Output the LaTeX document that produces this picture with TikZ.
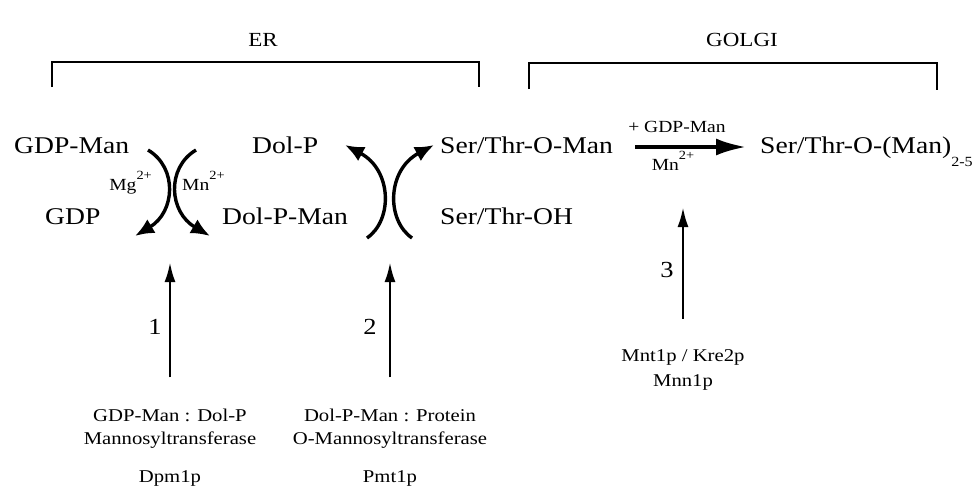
\documentclass[tikz,border=0pt]{standalone}
\usepackage{fontspec}
\setmainfont{Liberation Serif}[FakeStretch=1.15]
\usetikzlibrary{arrows.meta}
\newcommand{\supr}[1]{\raisebox{0.6em}{\fontsize{12.5}{14}\selectfont #1}}
\begin{document}
\begin{tikzpicture}[x=1pt,y=-1pt,
  mol/.style={inner sep=0pt, font=\fontsize{24}{28}\selectfont},
  num/.style={inner sep=0pt, font=\fontsize{23}{26}\selectfont},
  enz/.style={inner sep=0pt, font=\fontsize{18}{22}\selectfont},
  ion/.style={inner sep=0pt, font=\fontsize{17}{20}\selectfont},
  comp/.style={inner sep=0pt, font=\fontsize{20}{24}\selectfont},
  arcarrow/.style={line width=3.4pt, -{Latex[length=19pt,width=16pt]}},
  vertarrow/.style={line width=2.8pt, -{Latex[length=20pt,width=11pt]}},
  horarrow/.style={line width=3.6pt, -{Latex[length=30pt,width=17pt]}},
  brk/.style={line width=1.8pt}]
\useasboundingbox (0,0) rectangle (975,490);
% compartments
\node[comp] (er) at (263,40) {ER};
\node[comp] (golgi) at (742,40) {GOLGI};
\draw[brk] (52,87) -- (52,62) -- (479,62) -- (479,87);
\draw[brk] (529,89) -- (529,63) -- (937,63) -- (937,90);
% molecules
\node[mol, anchor=base west] (gdpman) at (14,153) {GDP-Man};
\node[mol, anchor=base west] (gdp) at (45,224) {GDP};
\node[mol, anchor=base west] (dolp) at (252,153) {Dol-P};
\node[mol, anchor=base west] (dolpman) at (222,224) {Dol-P-Man};
\node[mol, anchor=base west] (stoman) at (440,153) {Ser/Thr-O-Man};
\node[mol, anchor=base west] (stoh) at (440,224) {Ser/Thr-OH};
\node[mol, anchor=base west] (stoman2) at (760,153) {Ser/Thr-O-(Man)\raisebox{-0.55em}{\fontsize{14}{16}\selectfont 2-5}};
% curved arrows, step 1
\coordinate (a1s) at (148,150);
\coordinate (a1e) at (135,236);
\coordinate (a2s) at (196,150);
\coordinate (a2e) at (210,236);
\draw[arcarrow] (a1s) .. controls (178,168) and (175,212) .. (a1e);
\draw[arcarrow] (a2s) .. controls (166,168) and (169,212) .. (a2e);
\node[ion, anchor=base east] (mg) at (152,190) {Mg\supr{2+}};
\node[ion, anchor=base west] (mn1) at (182,190) {Mn\supr{2+}};
% curved arrows, step 2
\coordinate (a3s) at (367,238);
\coordinate (a3e) at (345,145);
\coordinate (a4s) at (412,238);
\coordinate (a4e) at (434,145);
\draw[arcarrow] (a3s) .. controls (393,220) and (392,170) .. (a3e);
\draw[arcarrow] (a4s) .. controls (386,220) and (387,170) .. (a4e);
% step 3
\draw[horarrow] ([shift={(22pt,6pt)}]stoman.base east) -- ([shift={(-14pt,6pt)}]stoman2.base west);
\node[ion, anchor=base] (plus) at (677,132) {+ GDP-Man};
\node[ion, anchor=base] (mn3) at (673,170) {Mn\supr{2+}};
% enzymes
\node[enz] (e1a) at (170,415) {GDP-Man : Dol-P};
\node[enz] (e1b) at (170,440) {Mannosyltransferase};
\node[enz] (e1c) at (170,478) {Dpm1p};
\node[enz] (e2a) at (390,415) {Dol-P-Man : Protein};
\node[enz] (e2b) at (390,440) {O-Mannosyltransferase};
\node[enz] (e2c) at (390,478) {Pmt1p};
\node[enz] (e3a) at (683,357) {Mnt1p / Kre2p};
\node[enz] (e3b) at (683,382) {Mnn1p};
\coordinate (t1) at (170,262);
\coordinate (t2) at (390,262);
\coordinate (t3) at (683,207);
\draw[vertarrow] ([yshift=31pt]e1a.north) -- (t1);
\draw[vertarrow] ([yshift=31pt]e2a.north) -- (t2);
\draw[vertarrow] ([yshift=30pt]e3a.north) -- (t3);
\node[num] (n1) at (155,327) {1};
\node[num] (n2) at (370,327) {2};
\node[num] (n3) at (667,270) {3};
\end{tikzpicture}
\end{document}
